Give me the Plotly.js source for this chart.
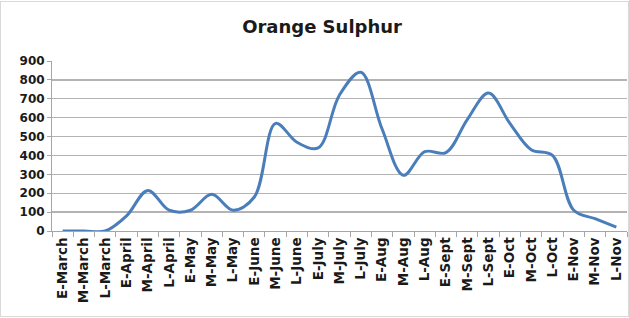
<!DOCTYPE html>
<html>
<head>
<meta charset="utf-8">
<script src="https://cdn.plot.ly/plotly-3.0.1.min.js"></script>
<style>
html,body{margin:0;padding:0;background:#fff;}
#wrap{position:relative;width:629px;height:318px;}
#chart{width:629px;height:318px;}
#frame{position:absolute;left:0;top:1px;width:627px;height:314px;border:1px solid #d9d9d9;pointer-events:none;}
</style>
</head>
<body>
<div id="wrap"><div id="chart"></div><div id="frame"></div></div>
<script>
var categories = ["E-March","M-March","L-March","E-April","M-April","L-April","E-May","M-May","L-May",
  "E-June","M-June","L-June","E-July","M-July","L-July","E-Aug","M-Aug","L-Aug",
  "E-Sept","M-Sept","L-Sept","E-Oct","M-Oct","L-Oct","E-Nov","M-Nov","L-Nov"];
var counts = [0,0,0,80,215,110,110,194,110,
  180,570,470,440,720,840,540,295,420,
  415,590,730,570,430,400,110,65,20];
var yTicks = [0,100,200,300,400,500,600,700,800,900];

var trace = {
  x: categories,
  y: counts,
  type: "scatter",
  mode: "lines",
  line: {color: "#4a7ebb", width: 3, shape: "spline", smoothing: 1},
  hoverinfo: "x+y"
};

var layout = {
  width: 629,
  height: 318,
  margin: {l: 52, r: 2, t: 61, b: 87},
  paper_bgcolor: "#ffffff",
  plot_bgcolor: "#ffffff",
  showlegend: false,
  title: {
    text: "<b>Orange Sulphur</b>",
    font: {family: "DejaVu Sans", size: 18, color: "#1a1a1a"},
    x: 0.512, xanchor: "center", xref: "container",
    y: 0.915, yanchor: "middle", yref: "container"
  },
  xaxis: {
    type: "category",
    range: [-0.5, categories.length - 0.5],
    tickangle: -90,
    tickfont: {family: "DejaVu Sans", size: 13.5, color: "#1a1a1a", weight: "bold"},
    ticks: "outside",
    ticklen: 5,
    tickcolor: "#a6a6a6",
    tickson: "boundaries",
    showline: true,
    linecolor: "#a6a6a6",
    linewidth: 1,
    showgrid: false,
    zeroline: false,
    automargin: false
  },
  yaxis: {
    range: [0, 900],
    tickvals: yTicks,
    ticktext: yTicks.map(String),
    tickfont: {family: "DejaVu Sans", size: 12, color: "#1a1a1a", weight: "bold"},
    ticks: "outside",
    ticklen: 4,
    tickcolor: "#a6a6a6",
    showline: true,
    linecolor: "#a6a6a6",
    linewidth: 1,
    showgrid: true,
    gridcolor: "#b3b3b3",
    gridwidth: 1.3,
    zeroline: false,
    automargin: false
  }
};

Plotly.newPlot("chart", [trace], layout, {displayModeBar: false, staticPlot: true});
</script>
</body>
</html>
